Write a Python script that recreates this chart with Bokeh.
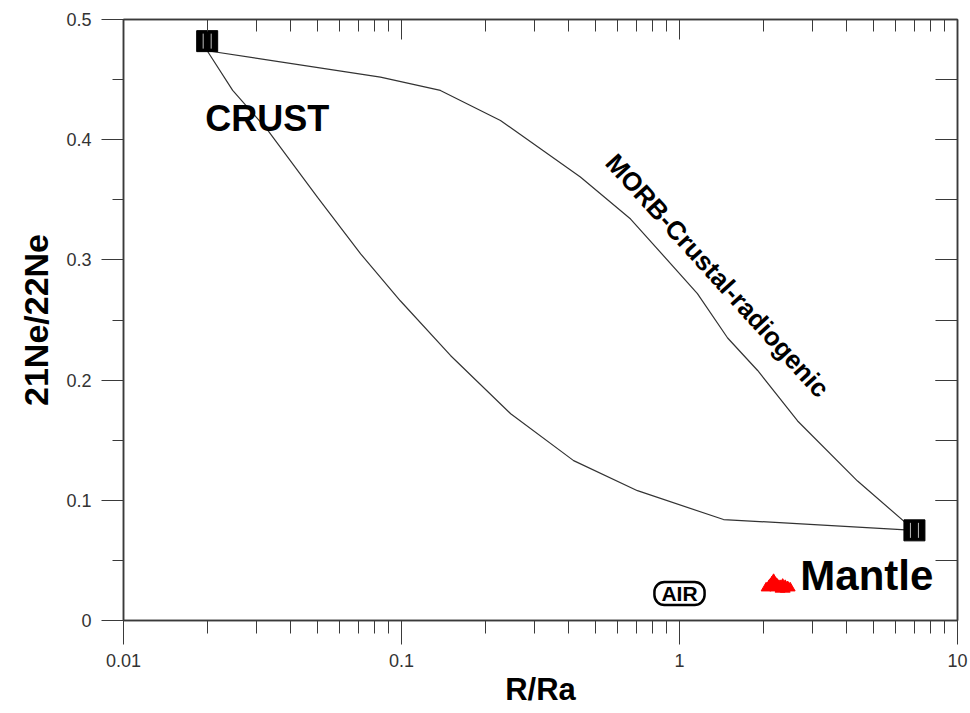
import math

from bokeh.embed import file_html
from bokeh.models import (CustomJSTickFormatter, FixedTicker, Label, LinearAxis,
                          LogAxis, SingleIntervalTicker)
from bokeh.plotting import figure
from bokeh.resources import INLINE

# End members: helium ratio (R/Ra) and 21Ne/22Ne
crust_ra = [0.02]
crust_ne = [0.482]
mantle_ra = [7.0]
mantle_ne = [0.075]

# Mixing hyperbolae between the crustal and the MORB mantle end members
upper_ra = [0.02, 0.084, 0.138, 0.227, 0.44, 0.667, 1.16, 1.49, 1.91, 2.66, 4.37, 7.0]
upper_ne = [0.474, 0.452, 0.441, 0.416, 0.369, 0.334, 0.272, 0.235, 0.208, 0.166, 0.116, 0.075]
lower_ra = [0.02, 0.0247, 0.033, 0.0499, 0.0713, 0.099, 0.150, 0.247, 0.416, 0.706, 1.44, 7.0]
lower_ne = [0.474, 0.441, 0.408, 0.352, 0.305, 0.266, 0.2205, 0.172, 0.133, 0.108, 0.084, 0.075]

# Measured gas samples
sample_ra = [2.05, 2.10, 2.15, 2.18, 2.22, 2.25, 2.30, 2.35, 2.40, 2.45, 2.50, 2.20, 2.30, 2.40, 2.12]
sample_ne = [0.027, 0.029, 0.032, 0.034, 0.031, 0.030, 0.029, 0.030, 0.029, 0.028, 0.027, 0.027,
             0.026, 0.026, 0.030]

# Atmospheric reference
air_ra = 1.0
air_ne = 0.0225

# Axis ticks
x_major = [0.01, 0.1, 1, 10]
x_labels = ["0.01", "0.1", "1", "10"]
x_minor = [m * d for d in (0.01, 0.1, 1) for m in range(2, 10)]

AXIS_COLOR = "#3a3a3a"
FONT = "Liberation Sans"

p = figure(width=970, height=713, x_axis_type="log", x_range=(0.01, 10), y_range=(0, 0.5),
           output_backend="svg", toolbar_location=None, background_fill_color="white",
           border_fill_color="white")
p.min_border_left = 123
p.min_border_right = 13
p.min_border_top = 19
p.min_border_bottom = 93
p.grid.visible = False
p.outline_line_color = AXIS_COLOR
p.outline_line_width = 1.5

# Bottom log axis
xa = p.xaxis[0]
xa.ticker = FixedTicker(ticks=x_major, minor_ticks=x_minor)
xa.major_label_overrides = {t: s for t, s in zip(x_major, x_labels)}
xa.axis_label = "R/Ra"
xa.axis_label_text_font = FONT
xa.axis_label_text_font_style = "bold"
xa.axis_label_text_font_size = "31px"
xa.axis_label_text_color = "black"
xa.axis_label_standoff = 2
xa.major_label_text_font = FONT
xa.major_label_text_font_size = "18px"
xa.major_label_text_color = "#333333"
xa.major_label_standoff = 9
xa.major_tick_in = 0
xa.major_tick_out = 24
xa.minor_tick_in = 0
xa.minor_tick_out = 13
for attr in ("axis_line_color", "major_tick_line_color", "minor_tick_line_color"):
    setattr(xa, attr, AXIS_COLOR)
xa.axis_line_width = 1.5

# Left linear axis
ya = p.yaxis[0]
ya.ticker = SingleIntervalTicker(interval=0.1, num_minor_ticks=2)
ya.axis_label = "21Ne/22Ne"
ya.axis_label_text_font = FONT
ya.axis_label_text_font_style = "bold"
ya.axis_label_text_font_size = "34px"
ya.axis_label_text_color = "black"
ya.axis_label_standoff = 8
ya.major_label_text_font = FONT
ya.major_label_text_font_size = "18px"
ya.major_label_text_color = "#333333"
ya.major_label_standoff = 10
ya.major_tick_in = 0
ya.major_tick_out = 22
ya.minor_tick_in = 0
ya.minor_tick_out = 11
for attr in ("axis_line_color", "major_tick_line_color", "minor_tick_line_color"):
    setattr(ya, attr, AXIS_COLOR)
ya.axis_line_width = 1.5

blank = CustomJSTickFormatter(code="return '';")

# Top and right frame axes with inward ticks
top = LogAxis(ticker=FixedTicker(ticks=x_major, minor_ticks=x_minor), formatter=blank,
              major_tick_in=20, major_tick_out=0, minor_tick_in=12, minor_tick_out=0,
              axis_line_color=AXIS_COLOR, major_tick_line_color=AXIS_COLOR,
              minor_tick_line_color=AXIS_COLOR, axis_line_width=1.5, major_label_standoff=0)
p.add_layout(top, "above")
right = LinearAxis(ticker=SingleIntervalTicker(interval=0.1, num_minor_ticks=2), formatter=blank,
                   major_tick_in=22, major_tick_out=0, minor_tick_in=22, minor_tick_out=0,
                   axis_line_color=AXIS_COLOR, major_tick_line_color=AXIS_COLOR,
                   minor_tick_line_color=AXIS_COLOR, axis_line_width=1.5, major_label_standoff=0)
p.add_layout(right, "right")

# Mixing curves
p.line(upper_ra, upper_ne, line_color="#333333", line_width=1.2)
p.line(lower_ra, lower_ne, line_color="#333333", line_width=1.2)

# End-member symbols: black squares with light error-bar strokes
ends_ra = crust_ra + mantle_ra
ends_ne = crust_ne + mantle_ne
p.scatter(ends_ra, ends_ne, marker="square", size=21, fill_color="black", line_color="black")
shift = 10 ** (4 / 278)
stripe_ra = [r / shift for r in ends_ra] + [r * shift for r in ends_ra]
p.scatter(stripe_ra, ends_ne + ends_ne, marker="dash", angle=math.pi / 2, size=15,
          line_color="#bdbdbd", line_width=1)

# Samples
p.scatter(sample_ra, sample_ne, marker="triangle", size=10, fill_color="#ff0000",
          line_color="#ff0000")

# Annotations
p.add_layout(Label(x=crust_ra[0], y=0.418, x_offset=-2, text="CRUST", text_font=FONT,
                   text_font_style="bold", text_font_size="36px", text_color="black",
                   text_baseline="alphabetic", text_align="left"))
p.add_layout(Label(x=2.72, y=0.0374, text="Mantle", text_font=FONT, text_font_style="bold",
                   text_font_size="42px", text_color="black", text_baseline="alphabetic",
                   text_align="left"))
p.add_layout(Label(x=1.37, y=0.287, text="MORB-Crustal-radiogenic", text_font=FONT,
                   text_font_style="bold", text_font_size="26px", text_color="black",
                   text_align="center", text_baseline="middle", angle=-0.834))
p.add_layout(Label(x=air_ra, y=air_ne, text="AIR", text_font=FONT, text_font_style="bold",
                   text_font_size="21px", text_color="black", text_align="center",
                   text_baseline="middle", border_line_color="black", border_line_width=2.5,
                   border_radius=10, background_fill_color="white",
                   padding=dict(left=7, right=7, top=0, bottom=0)))

open("out.html", "w").write(file_html(p, INLINE))
